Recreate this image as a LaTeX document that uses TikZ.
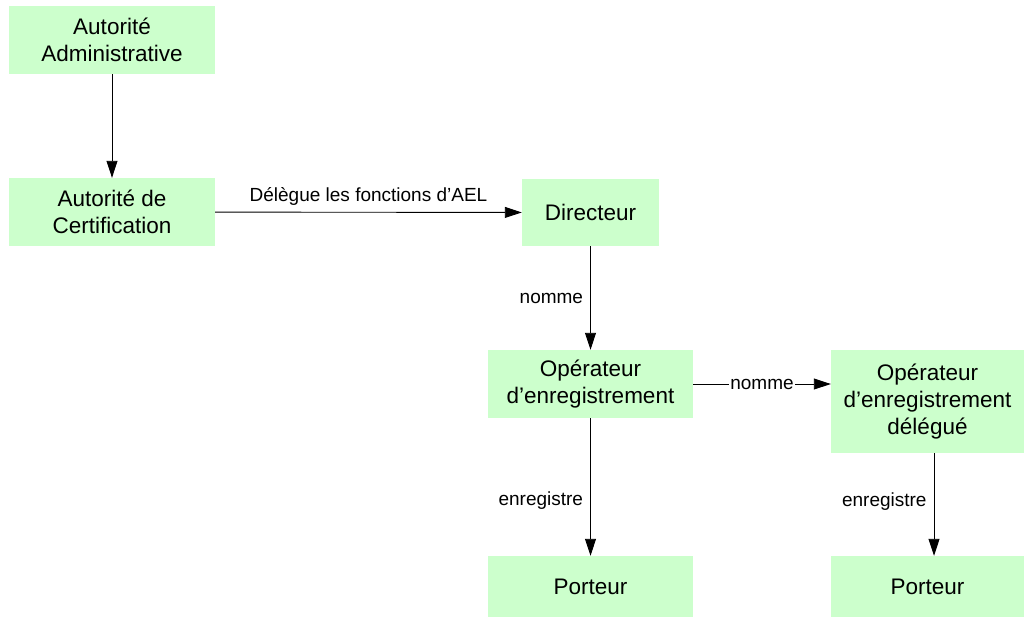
\documentclass[tikz,border=0pt]{standalone}
\usepackage{fontspec}
\setmainfont{Liberation Sans}
\usetikzlibrary{arrows.meta}
\definecolor{boxgreen}{HTML}{CCFFCC}

\begin{document}
\begin{tikzpicture}[x=1pt, y=-1pt,
  box/.style = {fill=boxgreen, inner sep=0pt, align=center, font=\fontsize{22.5}{27}\selectfont},
  lbl/.style = {font=\fontsize{19}{22}\selectfont, inner sep=1pt},
  conn/.style = {-{Triangle[length=17pt,width=11pt]}, line width=0.9pt}]
  \useasboundingbox (0,0) rectangle (1024,618);

  \node[box, minimum width=206, minimum height=68] (aa) at (112,40) {Autorité\\Administrative};
  \node[box, minimum width=206, minimum height=68] (ac) at (112,212) {Autorité de\\Certification};

  \node[box, minimum width=137, minimum height=67] (dir) at (590.5,212.5) {Directeur};

  \node[box, minimum width=205, minimum height=68] (oe) at (590.5,384) {Opérateur\\d’enregistrement};
  \node[box, minimum width=193, minimum height=103] (oed) at (927.5,401.5) {Opérateur\\d’enregistrement\\délégué};

  \node[box, minimum width=205, minimum height=61] (p1) at (590.5,586.5) {Porteur};
  \node[box, minimum width=193, minimum height=61] (p2) at (927.5,586.5) {Porteur};

  \draw[conn] (aa) -- (ac);
  \draw[conn] (ac) -- node[lbl, midway, above=5pt] {Délègue les fonctions d’AEL} (dir);
  \draw[conn] (dir) -- node[lbl, midway, left=6pt] {nomme} (oe);
  \draw[conn] (oe.east) -- node[lbl, midway, fill=white] {nomme} (oe.east -| oed.west);
  \draw[conn] (oe) -- node[lbl, pos=0.6, left=6pt] {enregistre} (p1);
  \draw[conn] ([xshift=6.5]oed.south) -- node[lbl, pos=0.47, left=6pt] {enregistre} ([xshift=6.5]p2.north);

\end{tikzpicture}
\end{document}
